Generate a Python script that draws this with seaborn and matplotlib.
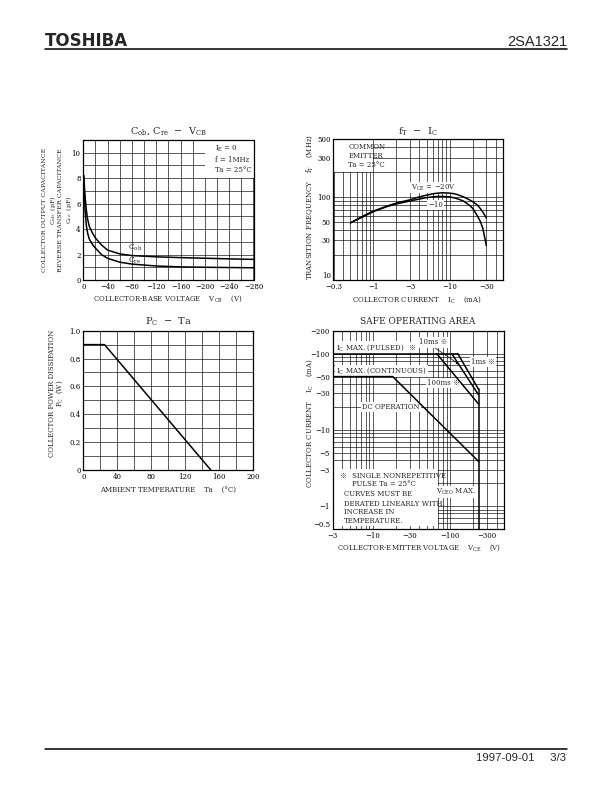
import matplotlib
matplotlib.use("Agg")
import matplotlib.pyplot as plt
import seaborn as sns
import pandas as pd
from matplotlib.ticker import FixedLocator, FixedFormatter, NullFormatter, MultipleLocator
from matplotlib.patches import Rectangle
from matplotlib.lines import Line2D

# ---------------- data ----------------
# Cob, Cre - VCB
vcb_v = [-1, -2, -3, -5, -7, -10, -15, -20, -30, -40, -60, -80, -120, -160, -200, -240, -280]
cob_pf = [8.2, 7.2, 6.5, 5.5, 4.8, 4.2, 3.7, 3.3, 2.75, 2.35, 2.05, 1.92, 1.82, 1.76, 1.71, 1.66, 1.62]
cre_pf = [8.0, 6.4, 5.4, 4.3, 3.7, 3.2, 2.8, 2.5, 2.0, 1.7, 1.4, 1.25, 1.1, 1.03, 1.0, 0.98, 0.96]

# fT - IC  (|IC| in mA)
ic_ma = [0.5, 0.7, 1, 1.5, 2, 3, 4, 5, 6, 7, 8, 10, 12, 15, 18, 20, 23, 25, 27, 30]
ft_20v = [49, 58, 68, 78, 85, 93, 101, 106, 110, 112, 113, 112, 109, 101, 93, 88, 80, 73, 66, 56]
ft_10v = [49, 57, 67, 77, 83, 90, 95, 99, 101, 102, 102, 101, 97, 90, 80, 73, 59, 51, 42, 26]

# PC - Ta
ta_c = [0, 25, 150]
pc_w = [0.9, 0.9, 0.0]

# Safe operating area (|VCE| in V, |IC| in mA)
dc_vce = [3, 18, 234]
dc_ic = [50, 50, 3.85]
pulsed_vce = [3, 125.6]
pulsed_ic = [100, 100]
ms100_vce = [67, 234]
ms100_ic = [100, 21.8]
ms10_vce = [105, 234]
ms10_ic = [100, 28.7]
ms1_vce = [125.6, 234]
ms1_ic = [100, 34]
vceo_vce = [234, 234]
vceo_ic = [34, 0.5]

# tick labels
p1_xticks = [0, -40, -80, -120, -160, -200, -240, -280]
p1_yticks = [0, 2, 4, 6, 8, 10]
p2_xticks = [0.3, 1, 3, 10, 30]
p2_xlabels = ["\u22120.3", "\u22121", "\u22123", "\u221210", "\u221230"]
p2_yticks = [10, 30, 50, 100, 300, 500]
p3_xticks = [0, 40, 80, 120, 160, 200]
p3_yticks = [0, 0.2, 0.4, 0.6, 0.8, 1.0]
p3_ylabels = ["0", "0.2", "0.4", "0.6", "0.8", "1.0"]
p4_xticks = [3, 10, 30, 100, 300]
p4_xlabels = ["\u22123", "\u221210", "\u221230", "\u2212100", "\u2212300"]
p4_yticks = [0.5, 1, 3, 5, 10, 30, 50, 100, 200]
p4_ylabels = ["\u22120.5", "\u22121", "\u22123", "\u22125", "\u221210", "\u221230", "\u221250", "\u2212100", "\u2212200"]

# ---------------- style ----------------
sns.set_theme(style="white")
plt.rcParams['font.family'] = ['DejaVu Serif', 'Noto Sans CJK JP']
plt.rcParams['mathtext.fontset'] = 'dejavuserif'
plt.rcParams['axes.linewidth'] = 0.9
plt.rcParams['axes.edgecolor'] = 'black'

FS = 5.0
FT = 7.0
W, H = 612, 792

fig = plt.figure(figsize=(6.12, 7.92), dpi=100)
fig.patch.set_facecolor('white')


def make_ax(box):
    l, t, r, b = box
    ax = fig.add_axes([l / W, 1 - b / H, (r - l) / W, (b - t) / H])
    ax.set_facecolor('white')
    return ax


def afr(box, px, py):
    l, t, r, b = box
    return ((px - l) / (r - l), (b - py) / (b - t))


def ftext(px, py, s, **kw):
    fig.text(px / W, 1 - py / H, s, **kw)


def style_ax(ax):
    ax.grid(True, which='both', color='black', lw=0.45)
    ax.set_axisbelow(True)
    ax.tick_params(which='both', length=0, labelsize=FS, colors='black', pad=2)
    for s in ax.spines.values():
        s.set_color('black')
        s.set_linewidth(0.9)
    ax.set_xlabel('')
    ax.set_ylabel('')


# ---------------- header / footer ----------------
ftext(45, 45.5, "TOSHIBA", fontsize=12, weight='bold', family='DejaVu Sans', va='baseline')
ftext(567, 45.5, "2SA1321", fontsize=10.5, family='Liberation Sans', ha='right', va='baseline')
fig.add_artist(Line2D([45 / W, 567 / W], [1 - 49 / H] * 2, color='black', lw=1.1))
fig.add_artist(Line2D([45 / W, 567 / W], [1 - 749 / H] * 2, color='black', lw=1.1))
ftext(566, 761, "1997-09-01     3/3", fontsize=8.2, family='Liberation Sans', ha='right', va='baseline')

# ---------------- panel 1: Cob, Cre - VCB ----------------
B1 = (83.3, 140, 253.5, 280)
ax1 = make_ax(B1)
df1 = pd.DataFrame({'vcb': vcb_v, 'cob': cob_pf, 'cre': cre_pf})
sns.lineplot(data=df1, x='vcb', y='cob', ax=ax1, color='black', lw=1.1, estimator=None, sort=False)
sns.lineplot(data=df1, x='vcb', y='cre', ax=ax1, color='black', lw=1.1, estimator=None, sort=False)
ax1.set_xlim(0, -280)
ax1.set_ylim(0, 11)
ax1.xaxis.set_major_locator(FixedLocator(p1_xticks))
ax1.xaxis.set_major_formatter(FixedFormatter([f"{v}".replace('-', '\u2212') for v in p1_xticks]))
ax1.xaxis.set_minor_locator(MultipleLocator(20))
ax1.yaxis.set_major_locator(FixedLocator(p1_yticks))
ax1.yaxis.set_major_formatter(FixedFormatter([str(v) for v in p1_yticks]))
ax1.yaxis.set_minor_locator(MultipleLocator(1))
style_ax(ax1)
ax1.add_patch(Rectangle((0.715, 0.726), 0.285, 0.274, transform=ax1.transAxes,
                        facecolor='white', edgecolor='none', zorder=1.5))
for s, py in [(r"I$_{\mathregular{E}}$ = 0", 148.5), ("f = 1MHz", 160), ("Ta = 25\u00b0C", 170.5)]:
    x, y = afr(B1, 215, py)
    ax1.text(x, y, s, transform=ax1.transAxes, fontsize=FS, va='center', ha='left', zorder=3)
x, y = afr(B1, 127.5, 248)
ax1.text(x, y, r"C$_{\mathregular{ob}}$", transform=ax1.transAxes, fontsize=FS + 0.5, va='center', ha='left', zorder=3)
x, y = afr(B1, 128.5, 261)
ax1.text(x, y, r"C$_{\mathregular{re}}$", transform=ax1.transAxes, fontsize=FS + 0.5, va='center', ha='left', zorder=3)
ftext(168, 131, "C$_{\\mathregular{ob}}$, C$_{\\mathregular{re}}$  \u2212  V$_{\\mathregular{CB}}$",
      fontsize=FT, ha='center', va='center')
ftext(168, 299, r"COLLECTOR-BASE VOLTAGE    V$_{\mathregular{CB}}$    (V)", fontsize=FS, ha='center', va='center')
ftext(44.5, 210, "COLLECTOR OUTPUT CAPACITANCE", fontsize=4.6, rotation=90, ha='center', va='center')
ftext(52.5, 210, r"C$_{\mathregular{ob}}$  (pF)", fontsize=4.6, rotation=90, ha='center', va='center')
ftext(60.5, 210, "REVERSE TRANSFER CAPACITANCE", fontsize=4.6, rotation=90, ha='center', va='center')
ftext(68.5, 210, r"C$_{\mathregular{re}}$  (pF)", fontsize=4.6, rotation=90, ha='center', va='center')

# ---------------- panel 2: fT - IC ----------------
B2 = (333.5, 139.3, 503.3, 280)
ax2 = make_ax(B2)
df2 = pd.DataFrame({'ic': ic_ma, 'ft20': ft_20v, 'ft10': ft_10v})
sns.lineplot(data=df2, x='ic', y='ft20', ax=ax2, color='black', lw=1.1, estimator=None, sort=False)
sns.lineplot(data=df2, x='ic', y='ft10', ax=ax2, color='black', lw=1.1, estimator=None, sort=False)
ax2.set_xscale('log')
ax2.set_yscale('log')
ax2.set_xlim(0.3, 50)
ax2.set_ylim(10, 500)
ax2.xaxis.set_major_locator(FixedLocator(p2_xticks))
ax2.xaxis.set_major_formatter(FixedFormatter(p2_xlabels))
ax2.xaxis.set_minor_locator(FixedLocator([k * 10.0 ** e for e in (-1, 0, 1) for k in range(1, 10)]))
ax2.xaxis.set_minor_formatter(NullFormatter())
ax2.yaxis.set_major_locator(FixedLocator(p2_yticks))
ax2.yaxis.set_major_formatter(FixedFormatter([str(v) for v in p2_yticks]))
ax2.yaxis.set_minor_locator(FixedLocator([k * 10.0 ** e for e in (1, 2) for k in range(1, 10)]))
ax2.yaxis.set_minor_formatter(NullFormatter())
style_ax(ax2)
ax2.get_yticklabels()[0].set_va('bottom')
ax2.add_patch(Rectangle((0, 0.768), 0.234, 0.232, transform=ax2.transAxes,
                        facecolor='white', edgecolor='none', zorder=1.5))
for s, py in [("COMMON", 147), ("EMITTER", 156), ("Ta = 25\u00b0C", 165)]:
    x, y = afr(B2, 348.5, py)
    ax2.text(x, y, s, transform=ax2.transAxes, fontsize=FS, va='center', ha='left', zorder=3)
x, y = afr(B2, 411, 187.5)
ax2.text(x, y, "V$_{\\mathregular{CE}}$ = \u221220V", transform=ax2.transAxes, fontsize=FS, va='center', ha='left',
         zorder=1.8, bbox=dict(facecolor='white', edgecolor='none', pad=0.6))
x, y = afr(B2, 428, 205)
ax2.text(x, y, "\u221210", transform=ax2.transAxes, fontsize=FS, va='center', ha='left',
         zorder=1.8, bbox=dict(facecolor='white', edgecolor='none', pad=0.6))
ftext(418, 132, "f$_{\\mathregular{T}}$  \u2212  I$_{\\mathregular{C}}$", fontsize=FT, ha='center', va='center')
ftext(417, 300, "COLLECTOR CURRENT    I$_{\\mathregular{C}}$    (mA)", fontsize=FS, ha='center', va='center')
ftext(310, 207, "TRANSITION FREQUENCY    f$_{\\mathregular{T}}$    (MHz)", fontsize=FS, rotation=90, ha='center', va='center')

# ---------------- panel 3: PC - Ta ----------------
B3 = (83.3, 330.7, 253.3, 470)
ax3 = make_ax(B3)
df3 = pd.DataFrame({'ta': ta_c, 'pc': pc_w})
sns.lineplot(data=df3, x='ta', y='pc', ax=ax3, color='black', lw=1.1, estimator=None, sort=False)
ax3.set_xlim(0, 200)
ax3.set_ylim(0, 1.0)
ax3.xaxis.set_major_locator(FixedLocator(p3_xticks))
ax3.xaxis.set_major_formatter(FixedFormatter([str(v) for v in p3_xticks]))
ax3.xaxis.set_minor_locator(MultipleLocator(20))
ax3.yaxis.set_major_locator(FixedLocator(p3_yticks))
ax3.yaxis.set_major_formatter(FixedFormatter(p3_ylabels))
ax3.yaxis.set_minor_locator(MultipleLocator(0.1))
style_ax(ax3)
ftext(168, 322, "P$_{\\mathregular{C}}$  \u2212  Ta", fontsize=FT, ha='center', va='center')
ftext(168, 490, "AMBIENT TEMPERATURE    Ta    (\u00b0C)", fontsize=FS, ha='center', va='center')
ftext(52, 393, "COLLECTOR POWER DISSIPATION", fontsize=FS, rotation=90, ha='center', va='center')
ftext(60, 393, "P$_{\\mathregular{C}}$  (W)", fontsize=FS, rotation=90, ha='center', va='center')

# ---------------- panel 4: SOA ----------------
B4 = (332.7, 330.7, 504, 529)
ax4 = make_ax(B4)
segments = [(dc_vce, dc_ic), (pulsed_vce, pulsed_ic), (ms100_vce, ms100_ic),
            (ms10_vce, ms10_ic), (ms1_vce, ms1_ic), (vceo_vce, vceo_ic)]
for xs, ys in segments:
    d = pd.DataFrame({'vce': xs, 'ic': ys})
    sns.lineplot(data=d, x='vce', y='ic', ax=ax4, color='black', lw=1.1, estimator=None, sort=False)
ax4.set_xscale('log')
ax4.set_yscale('log')
ax4.set_xlim(3, 500)
ax4.set_ylim(0.5, 200)
ax4.xaxis.set_major_locator(FixedLocator(p4_xticks))
ax4.xaxis.set_major_formatter(FixedFormatter(p4_xlabels))
ax4.xaxis.set_minor_locator(FixedLocator([k * 10.0 ** e for e in (0, 1, 2) for k in range(1, 10)]))
ax4.xaxis.set_minor_formatter(NullFormatter())
ax4.yaxis.set_major_locator(FixedLocator(p4_yticks))
ax4.yaxis.set_major_formatter(FixedFormatter(p4_ylabels))
ax4.yaxis.set_minor_locator(FixedLocator([k * 10.0 ** e for e in (-1, 0, 1, 2) for k in range(1, 10)]))
ax4.yaxis.set_minor_formatter(NullFormatter())
style_ax(ax4)
ax4.get_yticklabels()[0].set_va('bottom')
wb = dict(facecolor='white', edgecolor='none', pad=0.8)
labels4 = [
    ("I$_{\\mathregular{C}}$ MAX. (PULSED)", 335.5, 347.5),
    ("\u203b", 408.5, 347.5),
    ("I$_{\\mathregular{C}}$ MAX. (CONTINUOUS)", 336.5, 371),
    ("DC OPERATION", 362, 407),
    ("100ms \u203b", 427, 383),
    ("10ms \u203b", 419, 342.5),
    ("1ms \u203b", 471, 362),
    ("V$_{\\mathregular{CEO}}$ MAX.", 436.5, 492),
]
for s, px, py in labels4:
    x, y = afr(B4, px, py)
    ax4.text(x, y, s, transform=ax4.transAxes, fontsize=FS, va='center', ha='left', zorder=1.8, bbox=wb)
p0 = afr(B4, 433, 346.5)
p1 = afr(B4, 461.5, 366)
ax4.annotate("", xy=p1, xytext=p0, xycoords='axes fraction', textcoords='axes fraction',
             arrowprops=dict(arrowstyle='-|>', lw=0.5, color='black', mutation_scale=4), zorder=3)
ax4.add_patch(Rectangle((0.003, 0.015), 0.612, 0.29, transform=ax4.transAxes,
                        facecolor='white', edgecolor='none', zorder=1.5))
notes = [("\u203b", 339, 476.5), ("SINGLE NONREPETITIVE", 351.5, 476.5), ("PULSE Ta = 25\u00b0C", 351.5, 484.5),
         ("CURVES MUST BE", 343.5, 494.5), ("DERATED LINEARLY WITH", 343.5, 503.5),
         ("INCREASE IN", 343.5, 512), ("TEMPERATURE.", 343.5, 521)]
for s, px, py in notes:
    x, y = afr(B4, px, py)
    ax4.text(x, y, s, transform=ax4.transAxes, fontsize=FS, va='center', ha='left', zorder=3)
ftext(418, 322, "SAFE OPERATING AREA", fontsize=FT - 0.5, ha='center', va='center')
ftext(419, 548, "COLLECTOR-EMITTER VOLTAGE    V$_{\\mathregular{CE}}$    (V)", fontsize=FS, ha='center', va='center')
ftext(310, 423, "COLLECTOR CURRENT    I$_{\\mathregular{C}}$    (mA)", fontsize=FS, rotation=90, ha='center', va='center')

fig.savefig("out.png", dpi=100, facecolor='white')
